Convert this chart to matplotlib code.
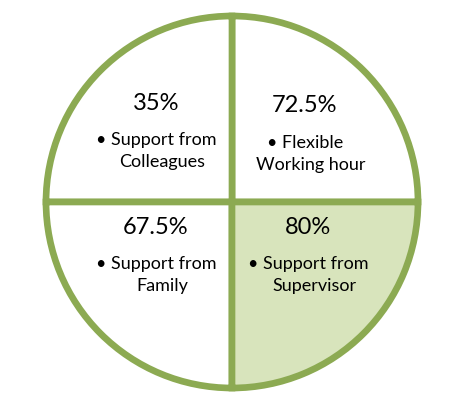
import matplotlib.pyplot as plt

# quadrant data, in the order the pie draws them (counter-clockwise from east)
percents = ["72.5%", "35%", "67.5%", "80%"]
bullet_lines = ["Flexible", "Support from", "Support from", "Support from"]
second_lines = ["Working hour", "Colleagues", "Family", "Supervisor"]
highlighted = [False, False, False, True]

green = "#8CAA52"
light = "#D8E4BC"

W, H = 474, 401
fig = plt.figure(figsize=(W / 100, H / 100), dpi=100)
ax = fig.add_axes([0, 0, 1, 1])

# four equal quadrants
cx, cy, r = 232, 199, 186
colors = [light if h else "white" for h in highlighted]
ax.pie([1] * len(percents), colors=colors, startangle=0, counterclock=True,
       center=(cx, cy), radius=r, frame=True,
       wedgeprops=dict(edgecolor=green, linewidth=4.8))
ax.set_xlim(0, W)
ax.set_ylim(0, H)
ax.set_aspect("equal")
ax.axis("off")

plt.rcParams["font.family"] = ["Lato", "DejaVu Sans"]

# text placement per quadrant: (x of percent/bullet line, image y of percent)
pos = [(305, 106), (156, 103), (156, 227), (308, 227)]
for i in range(len(percents)):
    x0, y0 = pos[i]
    y_b = y0 + 37
    y_s = y0 + 59
    ax.text(x0, H - y0, percents[i], ha="center", va="center", fontsize=17)
    ax.text(x0, H - y_b, "\u2022 " + bullet_lines[i], ha="center", va="center",
            fontsize=13)
    ax.text(x0 + 6, H - y_s, second_lines[i], ha="center", va="center", fontsize=13)

fig.savefig("out.png", dpi=100)
